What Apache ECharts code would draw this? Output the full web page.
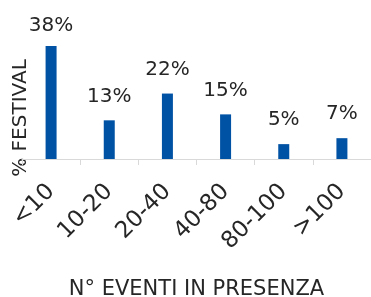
<!DOCTYPE html>
<html>
<head>
<meta charset="utf-8">
<script src="https://cdn.jsdelivr.net/npm/echarts@6/dist/echarts.min.js"></script>
<style>
html,body{margin:0;padding:0;background:#fff;}
#c{width:371px;height:297px;}
</style>
</head>
<body>
<div id="c"></div>
<script>
const categories = ['<10', '10-20', '20-40', '40-80', '80-100', '>100'];
const values = [38, 13, 22, 15, 5, 7];
const xTitle = 'N° EVENTI IN PRESENZA';
const yTitle = '% FESTIVAL';

const FONT = 'DejaVu Sans';
const TXT = '#262626';
const chart = echarts.init(document.getElementById('c'), null, {renderer: 'canvas'});
chart.setOption({
  animation: false,
  textStyle: {fontFamily: FONT},
  grid: {left: 22, right: 0, top: 40, bottom: 138, containLabel: false, outerBoundsMode: 'none'},
  xAxis: {
    type: 'category',
    data: categories,
    boundaryGap: true,
    axisLine: {show: true, lineStyle: {color: '#d9d9d9', width: 1}},
    axisTick: {show: true, length: 6, lineStyle: {color: '#d9d9d9'}},
    axisLabel: {rotate: 45, margin: 29, fontSize: 23, color: TXT, fontFamily: FONT, interval: 0},
    name: xTitle,
    nameLocation: 'middle',
    nameGap: 120,
    nameTextStyle: {fontSize: 21, color: TXT, fontFamily: FONT}
  },
  yAxis: {
    type: 'value',
    min: 0,
    max: 40,
    axisLine: {show: false},
    axisTick: {show: false},
    axisLabel: {show: false},
    splitLine: {show: false}
  },
  graphic: [{
    type: 'text',
    x: 21,
    y: 118,
    rotation: Math.PI / 2,
    style: {text: yTitle, font: '20px "DejaVu Sans"', fill: TXT, align: 'center', verticalAlign: 'middle'}
  }],
  series: [{
    type: 'bar',
    barWidth: 11,
    itemStyle: {color: '#0052A5'},
    label: {
      show: true,
      position: 'top',
      distance: 14,
      fontSize: 20,
      color: TXT,
      fontFamily: FONT,
      formatter: p => p.value + '%'
    },
    data: values.map((v, i) => i === 0 ? {value: v, label: {distance: 10}} : v)
  }]
});
</script>
</body>
</html>
